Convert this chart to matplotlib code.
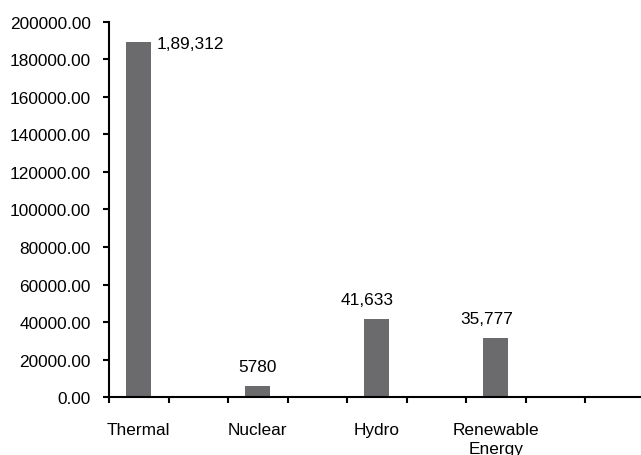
import matplotlib
matplotlib.use('Agg')
import matplotlib.pyplot as plt
import numpy as np

# Installed capacity by source (bar heights as drawn, labels as printed)
categories = ['Thermal', 'Nuclear', 'Hydro', 'Renewable\nEnergy']
values = [189312, 5780, 41633, 31300]
value_labels = ['1,89,312', '5780', '41,633', '35,777']
y_ticks = [0, 20000, 40000, 60000, 80000, 100000, 120000, 140000, 160000, 180000, 200000]

plt.rcParams['font.family'] = ['Liberation Sans', 'DejaVu Sans']
fs = 12.4

fig = plt.figure(figsize=(6.41, 4.56), dpi=100)
ax = fig.add_axes([0.170, 0.127, 0.836, 0.823])

# categories sit on every second slot, empty slots in between
slots = np.arange(len(categories)) * 2
ax.bar(slots, values, width=0.42, color='#6b6b6e', zorder=2)

# value labels
for i, (x, v, lab) in enumerate(zip(slots, values, value_labels)):
    if i == 0:
        ax.annotate(lab, (x + 0.21, v), xytext=(4, -1), textcoords='offset points',
                    ha='left', va='center', fontsize=fs)
    else:
        dx = 0 if i == 1 else -7
        ax.annotate(lab, (x, v), xytext=(dx, 14), textcoords='offset points',
                    ha='center', va='center', fontsize=fs)

ax.set_xlim(-0.5, 8.5)
ax.set_ylim(0, 200000)
ax.set_yticks(y_ticks)
ax.set_yticklabels([f'{t:.2f}' for t in y_ticks], fontsize=fs)

ax.set_xticks(slots)
ax.set_xticklabels(categories, fontsize=fs, linespacing=1.3)
ax.set_xticks(np.arange(-0.5, 9.0, 1.0), minor=True)
ax.tick_params(axis='x', which='major', length=0, pad=18)
ax.tick_params(axis='x', which='minor', length=4.3, width=1.5, direction='out')
ax.tick_params(axis='y', length=4, width=1.5, direction='out', pad=9)

for s in ['top', 'right']:
    ax.spines[s].set_visible(False)
for s in ['left', 'bottom']:
    ax.spines[s].set_linewidth(1.5)

fig.savefig('out.png', dpi=100)
